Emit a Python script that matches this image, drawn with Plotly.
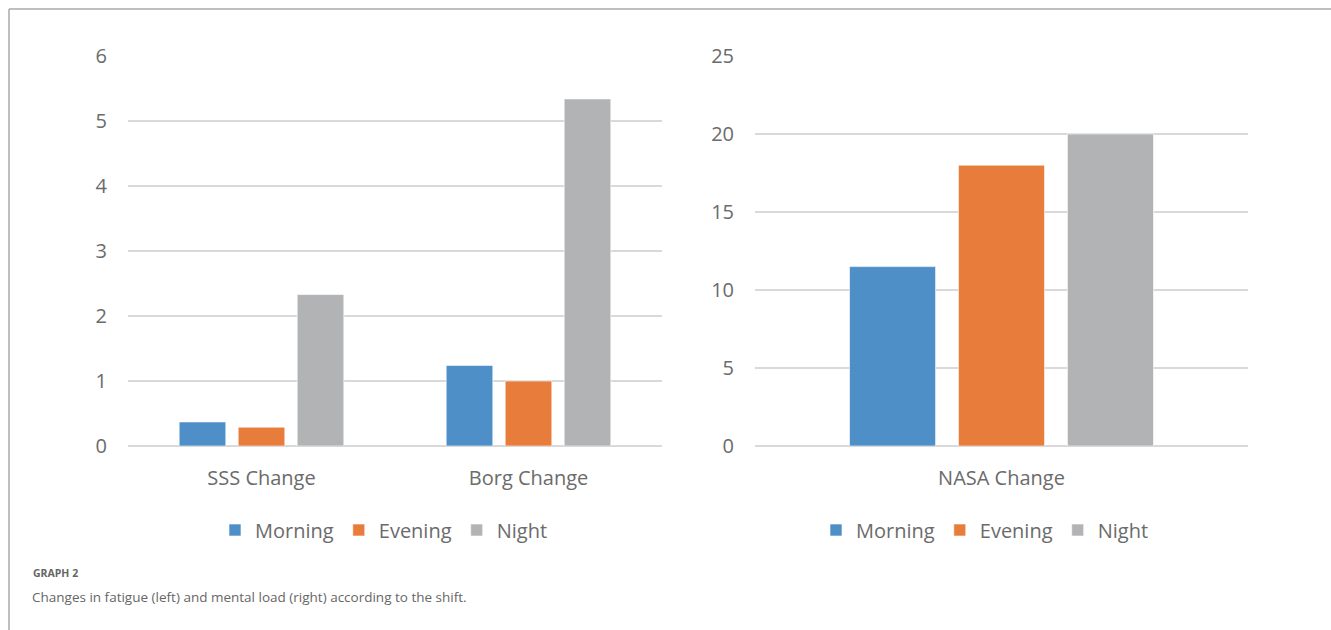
import plotly.graph_objects as go

# ---- data ----
fatigue_categories = ["SSS Change", "Borg Change"]
mental_categories = ["NASA Change"]
shifts = ["Morning", "Evening", "Night"]
fatigue_values = {
    "Morning": [0.37, 1.24],
    "Evening": [0.29, 1.0],
    "Night": [2.33, 5.34],
}
mental_values = {
    "Morning": [11.5],
    "Evening": [18.0],
    "Night": [20.0],
}
left_ticks = [0, 1, 2, 3, 4, 5, 6]
right_ticks = [0, 5, 10, 15, 20, 25]
caption_label = "GRAPH 2"
caption_text = "Changes in fatigue (left) and mental load (right) according to the shift."

colors = {"Morning": "#4e8fc8", "Evening": "#e87c3a", "Night": "#b2b3b5"}

W, H = 1331, 630
FONT = "Open Sans"
TXT = "#6b6b6b"

fig = go.Figure()
for s in shifts:
    fig.add_trace(go.Bar(
        x=fatigue_categories, y=fatigue_values[s], name=s,
        marker=dict(color=colors[s], line=dict(color="rgba(255,255,255,0.6)", width=1)),
        xaxis="x", yaxis="y", legend="legend",
    ))
for s in shifts:
    fig.add_trace(go.Bar(
        x=mental_categories, y=mental_values[s], name=s,
        marker=dict(color=colors[s], line=dict(color="rgba(255,255,255,0.6)", width=1)),
        xaxis="x2", yaxis="y2", legend="legend2",
    ))

y_dom = [(H - 446) / H, (H - 56) / H]
axis_common = dict(showline=False, ticks="", automargin=False,
                   tickfont=dict(family=FONT, size=20, color=TXT))
fig.update_layout(
    width=W, height=H,
    margin=dict(l=0, r=0, t=0, b=0, autoexpand=False),
    paper_bgcolor="white", plot_bgcolor="white",
    barmode="group", bargap=0.337, bargroupgap=0.21,
    font=dict(family=FONT, color=TXT),
    xaxis=dict(domain=[128 / W, 662 / W], anchor="y", showgrid=False,
               ticklabelstandoff=18, **axis_common),
    yaxis=dict(domain=y_dom, anchor="x", range=[0, 6], tickvals=left_ticks,
               showgrid=True, gridcolor="#d9d9d9", gridwidth=1.5,
               zeroline=True, zerolinecolor="#d9d9d9", zerolinewidth=1.5,
               ticklabelstandoff=20, **axis_common),
    xaxis2=dict(domain=[755 / W, 1248 / W], anchor="y2", showgrid=False,
                ticklabelstandoff=18, **axis_common),
    yaxis2=dict(domain=y_dom, anchor="x2", range=[0, 25], tickvals=right_ticks,
                showgrid=True, gridcolor="#d9d9d9", gridwidth=1.5,
                zeroline=True, zerolinecolor="#d9d9d9", zerolinewidth=1.5,
                ticklabelstandoff=20, **axis_common),
    legend=dict(orientation="h", x=384 / W, xanchor="center", y=(H - 530) / H, yanchor="middle",
                font=dict(family=FONT, size=20, color=TXT), bgcolor="rgba(0,0,0,0)"),
    legend2=dict(orientation="h", x=985 / W, xanchor="center", y=(H - 530) / H, yanchor="middle",
                 font=dict(family=FONT, size=20, color=TXT), bgcolor="rgba(0,0,0,0)"),
    showlegend=True,
)

# frame lines (top and left)
fig.add_shape(type="line", xref="paper", yref="paper", x0=9 / W, x1=1, y0=(H - 9) / H, y1=(H - 9) / H,
              line=dict(color="#a9a9a9", width=1.5))
fig.add_shape(type="line", xref="paper", yref="paper", x0=9 / W, x1=9 / W, y0=0, y1=(H - 9) / H,
              line=dict(color="#a9a9a9", width=1.5))

fig.add_annotation(text="<b>" + caption_label + "</b>", xref="paper", yref="paper",
                   x=31 / W, y=(H - 573) / H, xanchor="left", yanchor="middle", showarrow=False,
                   font=dict(family=FONT, size=10.5, color="#666666"))
fig.add_annotation(text=caption_text, xref="paper", yref="paper",
                   x=30 / W, y=(H - 597) / H, xanchor="left", yanchor="middle", showarrow=False,
                   font=dict(family=FONT, size=13.5, color="#666666"))

fig.write_html("out.html")
